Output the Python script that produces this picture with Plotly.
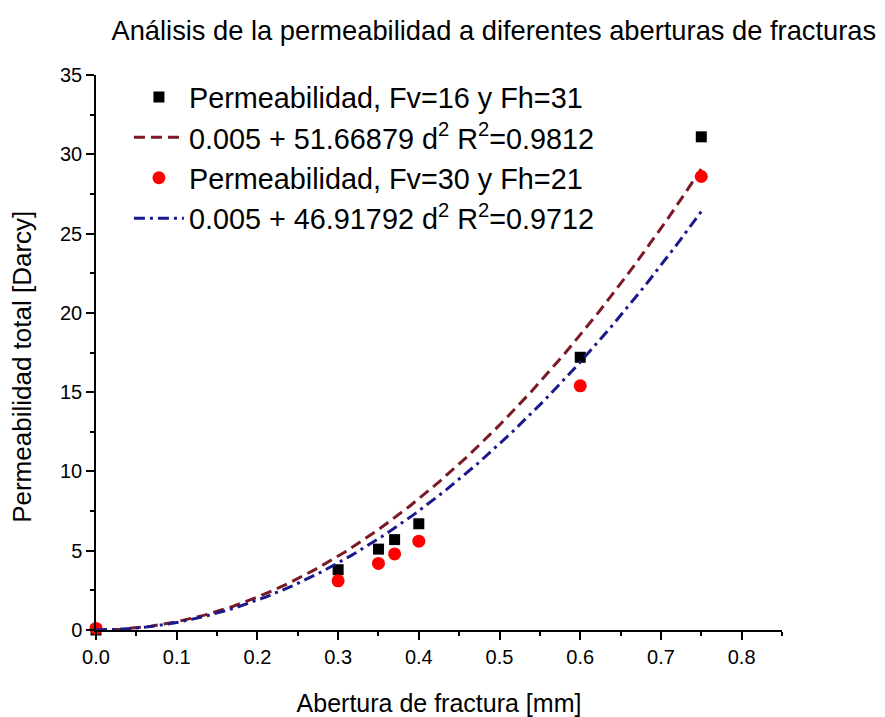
import numpy as np
import plotly.graph_objects as go

# Data
abertura = [0.0, 0.30, 0.35, 0.37, 0.40, 0.60, 0.75]
perm_fv16_fh31 = [0.0, 3.8, 5.1, 5.7, 6.7, 17.2, 31.1]
perm_fv30_fh21 = [0.1, 3.1, 4.2, 4.8, 5.6, 15.4, 28.6]

# Fit coefficients shown in legend: k = a + b d^2
fit1_a, fit1_b, fit1_r2 = 0.005, 51.66879, 0.9812
fit2_a, fit2_b, fit2_r2 = 0.005, 46.91792, 0.9712
fit_d_min, fit_d_max = 0.0, 0.75

d = np.linspace(fit_d_min, fit_d_max, 200)
fit1 = fit1_a + fit1_b * d ** 2
fit2 = fit2_a + fit2_b * d ** 2

FONT = "Liberation Sans, Arial, sans-serif"

fig = go.Figure()
fig.add_trace(go.Scatter(
    x=abertura, y=perm_fv16_fh31, mode="markers",
    name="Permeabilidad, Fv=16 y Fh=31",
    marker=dict(symbol="square", color="black", size=11),
    cliponaxis=False))
fig.add_trace(go.Scatter(
    x=d, y=fit1, mode="lines",
    name=f"{fit1_a} + {fit1_b:.5f} d<sup>2</sup> R<sup>2</sup>={fit1_r2}",
    line=dict(color="#7a1a24", width=3, dash="11px,6px"),
    cliponaxis=False))
fig.add_trace(go.Scatter(
    x=abertura, y=perm_fv30_fh21, mode="markers",
    name="Permeabilidad, Fv=30 y Fh=21",
    marker=dict(symbol="circle", color="#ff0000", size=13),
    cliponaxis=False))
fig.add_trace(go.Scatter(
    x=d, y=fit2, mode="lines",
    name=f"{fit2_a} + {fit2_b:.5f} d<sup>2</sup> R<sup>2</sup>={fit2_r2}",
    line=dict(color="#1a1a8c", width=3, dash="11px,5px,3px,5px"),
    cliponaxis=False))

fig.update_layout(
    width=885, height=717,
    margin=dict(l=96, r=103, t=75, b=87),
    paper_bgcolor="white", plot_bgcolor="white",
    font=dict(family=FONT, color="black", size=20),
    title=dict(text="Análisis de la permeabilidad a diferentes aberturas de fracturas",
               x=0.558, xanchor="center", y=0.958, yanchor="middle",
               font=dict(size=27.3, family=FONT)),
    legend=dict(x=0.048, y=1.006, xanchor="left", yanchor="top",
                bgcolor="rgba(0,0,0,0)", font=dict(size=28.8, family=FONT),
                itemwidth=50),
    showlegend=True,
    annotations=[dict(
        text="Permeabilidad total [Darcy]", textangle=-90,
        xref="paper", yref="paper", x=-0.108, y=0.474,
        xanchor="center", yanchor="middle", showarrow=False,
        font=dict(size=26, family=FONT, color="black"))],
)
fig.update_xaxes(
    range=[0, 0.85], dtick=0.1, tick0=0, tickformat=".1f",
    showline=True, linecolor="black", linewidth=1.5, mirror=False,
    ticks="outside", ticklen=8, tickwidth=1.5, tickcolor="black",
    minor=dict(dtick=0.05, ticks="outside", ticklen=4, tickwidth=1.5, tickcolor="black"),
    showgrid=False, zeroline=False, automargin=False,
    title=dict(text="Abertura de fractura [mm]", font=dict(size=25), standoff=28),
    tickfont=dict(size=20),
)
fig.update_yaxes(
    range=[0, 35], dtick=5, tick0=0,
    showline=True, linecolor="black", linewidth=1.5, mirror=False,
    ticks="outside", ticklen=8, tickwidth=1.5, tickcolor="black",
    minor=dict(dtick=2.5, ticks="outside", ticklen=4, tickwidth=1.5, tickcolor="black"),
    showgrid=False, zeroline=False, automargin=False,
    tickfont=dict(size=20),
)

fig.write_html("out.html")
